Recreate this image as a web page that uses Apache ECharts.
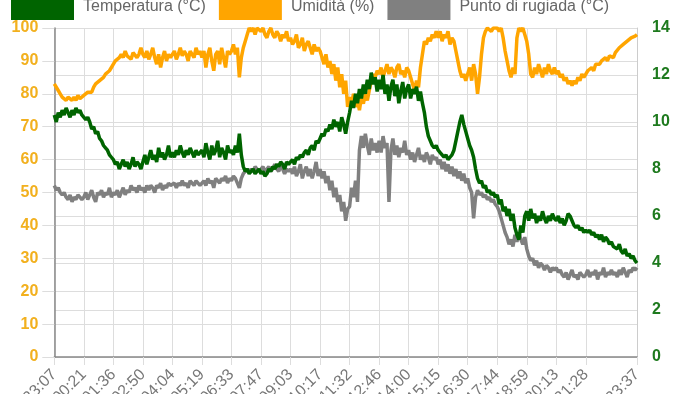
<!DOCTYPE html>
<html>
<head>
<meta charset="utf-8">
<script src="https://cdn.jsdelivr.net/npm/echarts@6/dist/echarts.min.js"></script>
<style>html,body{margin:0;padding:0;background:#fff;}#c{width:700px;height:394px;}</style>
</head>
<body>
<div id="c"></div>
<script>
const tickLabels = ['23:07','00:21','01:36','02:50','04:04','05:19','06:33','07:47','09:03','10:17','11:32','12:46','14:00','15:15','16:30','17:44','18:59','20:13','21:28','23:37'];
const labelStep = 15;

const humidity = [
83,82,81,80,79,79.5,78,79,78.5,78,79,78,79.5,78.5,79,
79.5,80,80.5,81,80.5,82,83,82.5,84,84.5,85,86,85.5,87,88,
89,90,89.5,91,92,91,93,91.5,92,90.5,92.5,93,91,92,94,
92,91,93,90.5,92,94,91,89,92,88,91,93,90,92,91,
92,93,90.5,92,94,91.5,93,92,90,93,92.5,91,94,92,93,
91,93,88,92,94,90,87,92,93,89,94,91,88,93,92,
93,95,92,94,85,91,94,96,98,100,99,100,98,100,100,
99,100,98,97,99,100,98,97,99,98,96,98,97,99,96,
97,95,96,98,94,95,97,93,95,96,94,92,95,93,94,
93,91,89,92,88,90,86,89,84,88,82,86,80,84,76,
79,77,80,76,78,75,79,77,80,78,81,84,86,85,87,
86,88,85,87,89,86,88,87,85,88,89,86,87,85,88,
87,85,83,81,84,82,88,92,96,95,97,96,98,97,99,
97,99,96,98,97,99,95,97,96,93,90,87,85,86,84,
86,88,84,89,86,80,85,92,97,99,100,100,99,100,100,
100,99,100,97,93,90,87,85,88,86,97,100,99,100,98,
96,92,86,85,88,86,89,87,85,88,86,89,87,86,88,
86,87,85,86,84,85,83,84,82.5,84,83,85,84,86,85,
86,87,87.5,88,87,89,88.5,89,90,89.5,91,90,91.5,92,91,
92.5,93,94,93.5,95,94.5,96,95.5,97,96.5,97.5,98
];

const temperature = [
10.3,10.0,10.4,10.2,10.5,10.3,10.6,10.4,10.2,10.5,10.3,10.6,10.4,10.5,10.3,
10.3,10.1,10.2,10.0,9.7,9.8,9.5,9.6,9.3,9.2,9.0,8.9,8.8,8.6,8.5,
8.4,8.2,8.3,8.0,8.2,8.4,8.1,8.3,8.0,8.2,8.5,8.1,8.3,8.2,8.0,
8.3,8.6,8.2,8.5,8.8,8.4,8.6,8.3,8.9,8.5,8.7,8.4,8.6,9.0,8.5,
8.7,8.5,8.8,8.6,9.0,8.7,8.5,8.8,8.6,8.9,8.7,8.5,8.8,8.6,8.7,
8.8,8.5,9.1,8.7,8.4,9.0,8.6,8.8,9.2,8.5,8.9,8.7,8.4,9.0,8.7,
8.8,8.6,9.0,8.7,9.5,8.6,8.1,7.9,8.0,7.8,7.9,8.0,7.8,7.9,8.0,
7.8,7.9,7.7,7.8,8.0,7.9,8.1,8.0,8.2,8.1,8.3,8.2,8.0,8.3,8.2,
8.3,8.4,8.2,8.5,8.4,8.6,8.5,8.7,8.8,8.6,8.9,9.0,8.8,9.2,9.1,
9.3,9.5,9.4,9.7,9.6,9.9,9.7,10.1,9.8,10.0,9.6,10.2,9.9,9.5,10.0,
10.4,10.9,10.6,11.2,10.8,11.4,11.0,11.6,11.2,11.8,11.4,12.1,11.6,11.9,11.3,
11.8,11.4,12.0,11.2,11.6,10.9,11.5,11.8,11.1,11.6,10.8,11.3,11.7,11.0,11.4,
11.6,11.0,11.4,11.2,11.5,10.9,11.3,10.8,10.4,9.8,9.4,9.2,9.0,8.9,9.0,
8.8,8.7,8.6,8.5,8.6,8.4,8.5,8.6,8.8,9.2,9.6,10.0,10.3,9.9,9.6,
9.3,9.0,8.8,8.5,8.0,7.6,7.4,7.5,7.2,7.3,7.0,7.1,6.9,7.0,6.8,
6.9,6.5,6.7,6.2,6.4,6.0,6.3,5.8,6.1,5.5,5.2,5.0,5.6,5.3,6.0,
6.2,5.8,6.3,5.9,6.1,5.7,6.0,5.8,6.2,5.9,5.7,6.0,5.8,6.1,5.9,
5.8,6.0,5.7,5.9,5.6,5.8,6.1,6.0,5.8,5.6,5.5,5.6,5.4,5.5,5.3,
5.4,5.3,5.4,5.2,5.3,5.1,5.2,5.0,5.2,4.9,5.1,5.0,4.8,4.9,4.7,
4.7,4.6,4.8,4.5,4.4,4.6,4.3,4.4,4.2,4.3,4.1,4.0
];

const dewPoint = [
7.3,7.1,7.2,7.0,6.9,7.0,6.8,6.7,6.9,6.6,6.8,6.7,6.9,6.8,6.7,
6.8,7.0,6.7,6.9,7.1,6.8,6.6,7.0,6.9,7.1,6.8,7.0,6.9,7.2,6.8,
7.0,6.9,7.1,6.8,7.0,7.2,6.9,7.1,7.0,7.3,7.1,7.2,7.0,7.3,7.1,
7.2,7.0,7.3,7.1,7.3,7.2,7.0,7.3,7.2,7.4,7.1,7.3,7.2,7.4,7.3,
7.3,7.4,7.2,7.4,7.3,7.5,7.3,7.4,7.2,7.5,7.4,7.3,7.5,7.4,7.3,
7.4,7.5,7.3,7.6,7.4,7.5,7.2,7.6,7.5,7.4,7.6,7.5,7.7,7.4,7.6,
7.5,7.7,7.6,7.4,7.2,7.6,7.8,7.9,8.0,7.9,8.0,7.9,8.1,8.0,7.9,
8.0,8.1,7.9,8.0,8.1,7.9,8.0,8.2,8.0,7.9,8.1,8.0,7.8,8.0,7.9,
8.0,7.8,8.1,7.7,7.9,8.2,7.6,7.9,8.1,7.7,8.0,7.6,7.9,8.3,7.7,
8.0,7.6,7.9,7.4,7.7,7.1,7.5,6.8,7.2,6.6,6.9,6.2,6.6,5.8,6.3,
6.4,7.2,6.8,7.5,6.6,8.8,9.4,8.9,9.5,9.0,8.6,9.3,8.8,9.1,8.7,
9.2,8.7,9.4,8.9,9.1,6.6,8.8,9.3,8.6,9.0,8.5,8.9,8.7,9.2,8.6,
8.8,8.4,8.7,8.3,8.6,8.9,8.4,8.6,8.3,8.7,8.5,8.2,8.6,8.4,8.5,
8.2,8.4,8.0,8.3,7.9,8.2,7.8,8.1,7.7,8.0,7.6,7.9,7.5,7.8,7.4,
7.6,7.2,7.0,5.9,6.8,7.1,6.9,7.0,6.8,6.9,6.7,6.8,6.6,6.7,6.5,
6.4,6.2,5.9,5.6,5.3,5.1,4.8,5.0,4.7,5.2,4.9,5.3,5.0,4.8,5.1,
4.6,4.3,4.1,4.2,3.9,4.1,3.8,4.0,3.9,3.7,3.9,3.8,3.6,3.8,3.7,
3.8,3.6,3.7,3.5,3.4,3.6,3.3,3.5,3.7,3.4,3.5,3.3,3.6,3.5,3.4,
3.5,3.7,3.4,3.6,3.5,3.7,3.3,3.6,3.5,3.8,3.4,3.6,3.5,3.7,3.5,
3.6,3.4,3.7,3.5,3.8,3.6,3.4,3.7,3.6,3.8,3.7,3.8
];

const n = temperature.length;
const categories = temperature.map((_, i) => String(i));
const lastRegular = (tickLabels.length - 2) * labelStep;
const isTick = (i) => (i % labelStep === 0 && i <= lastRegular) || i === n - 1;
const labelFor = (i) => (i === n - 1 ? tickLabels[tickLabels.length - 1] : tickLabels[i / labelStep]);

const chart = echarts.init(document.getElementById('c'), null, {renderer: 'canvas'});
const font = 'Liberation Sans, Arial, Helvetica, sans-serif';
chart.setOption({
  animation: false,
  backgroundColor: '#fff',
  textStyle: {fontFamily: font},
  legend: {
    left: 11, top: -7, padding: 0, itemGap: 13,
    itemWidth: 63, itemHeight: 27, icon: 'rect',
    textStyle: {fontSize: 16, color: '#666', fontFamily: font, padding: [0, 0, 0, 4]},
    data: ['Temperatura (°C)', 'Umidità (%)', 'Punto di rugiada (°C)']
  },
  grid: {left: 54.3, right: 63, top: 28, bottom: 37, containLabel: false, outerBoundsMode: 'none'},
  xAxis: {
    type: 'category', data: categories, boundaryGap: false,
    axisLine: {show: true, lineStyle: {color: '#888', width: 1.5}},
    axisTick: {show: true, length: 8, interval: (i) => isTick(i), lineStyle: {color: '#ddd'}},
    splitLine: {show: true, interval: (i) => isTick(i), lineStyle: {color: '#ddd', width: 1}},
    axisLabel: {
      interval: (i) => isTick(i), rotate: 45, fontSize: 16, color: '#777', margin: 15,
      fontFamily: font, formatter: (v, i) => labelFor(i)
    }
  },
  yAxis: [
    {
      type: 'value', min: 0, max: 100, interval: 10, position: 'left',
      axisLine: {show: true, lineStyle: {color: '#888', width: 1.5}},
      axisTick: {show: true, length: 12, lineStyle: {color: '#ddd'}},
      splitLine: {show: true, lineStyle: {color: '#ddd', width: 1}},
      axisLabel: {fontSize: 16, fontWeight: 'bold', color: '#F2B01E', margin: 16, fontFamily: font}
    },
    {
      type: 'value', min: 0, max: 14, interval: 2, position: 'right',
      axisLine: {show: true, lineStyle: {color: '#ccc', width: 1}},
      axisTick: {show: false},
      splitLine: {show: true, lineStyle: {color: '#ddd', width: 1}},
      axisLabel: {fontSize: 16, fontWeight: 'bold', color: '#1E7A1E', margin: 15, fontFamily: font}
    }
  ],
  series: [
    {name: 'Punto di rugiada (°C)', type: 'line', yAxisIndex: 1, data: dewPoint, showSymbol: false,
     itemStyle: {color: '#808080'}, lineStyle: {color: '#808080', width: 3.5}},
    {name: 'Umidità (%)', type: 'line', yAxisIndex: 0, data: humidity, showSymbol: false,
     itemStyle: {color: '#FFA500'}, lineStyle: {color: '#FFA500', width: 3.5}},
    {name: 'Temperatura (°C)', type: 'line', yAxisIndex: 1, data: temperature, showSymbol: false,
     itemStyle: {color: '#006400'}, lineStyle: {color: '#006400', width: 3.5}}
  ]
});
</script>
</body>
</html>
